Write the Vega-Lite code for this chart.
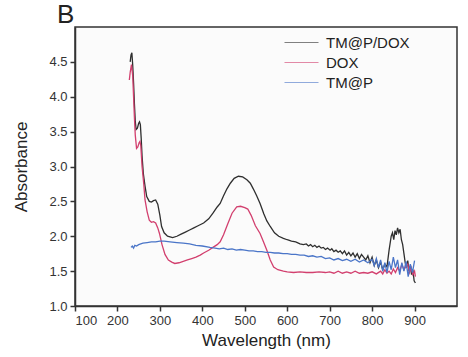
{
"$schema": "https://vega.github.io/schema/vega-lite/v6.json",
"autosize": "none",
"width": 382,
"height": 279,
"padding": {"left": 75, "top": 27, "right": 11, "bottom": 51},
"background": "#ffffff",
"title": {"text": "B", "anchor": "start", "frame": "group", "fontSize": 26, "fontWeight": "normal", "font": "Liberation Sans", "color": "#222222", "dx": -18, "offset": -22, "baseline": "alphabetic"},
"config": {
  "view": {"stroke": "#333333", "strokeWidth": 1.5, "fill": "#fbfbfb"},
  "axis": {"labelFont": "Liberation Sans", "titleFont": "Liberation Sans", "labelFontSize": 13, "titleFontSize": 17, "titleFontWeight": "normal", "labelColor": "#333333", "titleColor": "#222222", "domainColor": "#333333", "domainWidth": 1.5, "tickColor": "#333333", "tickWidth": 1.5, "tickSize": 5, "grid": false}
},
"data": {"values": [
{"s":"TM@P/DOX","w":230,"a":4.50},{"s":"TM@P/DOX","w":232,"a":4.60},{"s":"TM@P/DOX","w":234,"a":4.63},{"s":"TM@P/DOX","w":236,"a":4.45},{"s":"TM@P/DOX","w":238,"a":4.20},{"s":"TM@P/DOX","w":240,"a":3.90},{"s":"TM@P/DOX","w":242,"a":3.65},{"s":"TM@P/DOX","w":244,"a":3.53},{"s":"TM@P/DOX","w":247,"a":3.55},{"s":"TM@P/DOX","w":250,"a":3.62},{"s":"TM@P/DOX","w":252,"a":3.64},{"s":"TM@P/DOX","w":254,"a":3.60},{"s":"TM@P/DOX","w":256,"a":3.40},{"s":"TM@P/DOX","w":258,"a":3.15},{"s":"TM@P/DOX","w":261,"a":2.90},{"s":"TM@P/DOX","w":265,"a":2.72},{"s":"TM@P/DOX","w":269,"a":2.57},{"s":"TM@P/DOX","w":275,"a":2.50},{"s":"TM@P/DOX","w":280,"a":2.49},{"s":"TM@P/DOX","w":285,"a":2.51},{"s":"TM@P/DOX","w":290,"a":2.52},{"s":"TM@P/DOX","w":295,"a":2.46},{"s":"TM@P/DOX","w":300,"a":2.30},{"s":"TM@P/DOX","w":304,"a":2.14},{"s":"TM@P/DOX","w":310,"a":2.05},{"s":"TM@P/DOX","w":318,"a":2.00},{"s":"TM@P/DOX","w":324,"a":1.99},{"s":"TM@P/DOX","w":330,"a":1.98},{"s":"TM@P/DOX","w":340,"a":2.00},{"s":"TM@P/DOX","w":350,"a":2.03},{"s":"TM@P/DOX","w":360,"a":2.06},{"s":"TM@P/DOX","w":370,"a":2.09},{"s":"TM@P/DOX","w":380,"a":2.12},{"s":"TM@P/DOX","w":390,"a":2.15},{"s":"TM@P/DOX","w":403,"a":2.19},{"s":"TM@P/DOX","w":415,"a":2.25},{"s":"TM@P/DOX","w":425,"a":2.33},{"s":"TM@P/DOX","w":435,"a":2.42},{"s":"TM@P/DOX","w":442,"a":2.47},{"s":"TM@P/DOX","w":450,"a":2.58},{"s":"TM@P/DOX","w":458,"a":2.68},{"s":"TM@P/DOX","w":466,"a":2.76},{"s":"TM@P/DOX","w":475,"a":2.83},{"s":"TM@P/DOX","w":485,"a":2.86},{"s":"TM@P/DOX","w":495,"a":2.85},{"s":"TM@P/DOX","w":505,"a":2.81},{"s":"TM@P/DOX","w":513,"a":2.76},{"s":"TM@P/DOX","w":520,"a":2.68},{"s":"TM@P/DOX","w":528,"a":2.58},{"s":"TM@P/DOX","w":536,"a":2.47},{"s":"TM@P/DOX","w":545,"a":2.32},{"s":"TM@P/DOX","w":552,"a":2.22},{"s":"TM@P/DOX","w":560,"a":2.14},{"s":"TM@P/DOX","w":570,"a":2.05},{"s":"TM@P/DOX","w":580,"a":2.00},{"s":"TM@P/DOX","w":591,"a":1.97},{"s":"TM@P/DOX","w":600,"a":1.95},{"s":"TM@P/DOX","w":610,"a":1.93},{"s":"TM@P/DOX","w":620,"a":1.92},{"s":"TM@P/DOX","w":630,"a":1.89},{"s":"TM@P/DOX","w":638,"a":1.88},{"s":"TM@P/DOX","w":645,"a":1.89},{"s":"TM@P/DOX","w":650,"a":1.86},{"s":"TM@P/DOX","w":655,"a":1.88},{"s":"TM@P/DOX","w":660,"a":1.85},{"s":"TM@P/DOX","w":665,"a":1.87},{"s":"TM@P/DOX","w":670,"a":1.84},{"s":"TM@P/DOX","w":675,"a":1.86},{"s":"TM@P/DOX","w":680,"a":1.83},{"s":"TM@P/DOX","w":685,"a":1.84},{"s":"TM@P/DOX","w":690,"a":1.81},{"s":"TM@P/DOX","w":695,"a":1.83},{"s":"TM@P/DOX","w":701,"a":1.80},{"s":"TM@P/DOX","w":705,"a":1.82},{"s":"TM@P/DOX","w":710,"a":1.78},{"s":"TM@P/DOX","w":715,"a":1.80},{"s":"TM@P/DOX","w":720,"a":1.77},{"s":"TM@P/DOX","w":725,"a":1.79},{"s":"TM@P/DOX","w":730,"a":1.75},{"s":"TM@P/DOX","w":735,"a":1.79},{"s":"TM@P/DOX","w":740,"a":1.73},{"s":"TM@P/DOX","w":745,"a":1.77},{"s":"TM@P/DOX","w":750,"a":1.72},{"s":"TM@P/DOX","w":755,"a":1.76},{"s":"TM@P/DOX","w":760,"a":1.70},{"s":"TM@P/DOX","w":765,"a":1.75},{"s":"TM@P/DOX","w":770,"a":1.68},{"s":"TM@P/DOX","w":775,"a":1.74},{"s":"TM@P/DOX","w":780,"a":1.70},{"s":"TM@P/DOX","w":785,"a":1.66},{"s":"TM@P/DOX","w":790,"a":1.72},{"s":"TM@P/DOX","w":795,"a":1.62},{"s":"TM@P/DOX","w":800,"a":1.70},{"s":"TM@P/DOX","w":805,"a":1.58},{"s":"TM@P/DOX","w":810,"a":1.66},{"s":"TM@P/DOX","w":815,"a":1.55},{"s":"TM@P/DOX","w":820,"a":1.63},{"s":"TM@P/DOX","w":825,"a":1.52},{"s":"TM@P/DOX","w":830,"a":1.60},{"s":"TM@P/DOX","w":835,"a":1.56},{"s":"TM@P/DOX","w":840,"a":1.80},{"s":"TM@P/DOX","w":845,"a":2.00},{"s":"TM@P/DOX","w":848,"a":2.05},{"s":"TM@P/DOX","w":851,"a":1.95},{"s":"TM@P/DOX","w":854,"a":2.08},{"s":"TM@P/DOX","w":857,"a":2.02},{"s":"TM@P/DOX","w":860,"a":2.12},{"s":"TM@P/DOX","w":863,"a":2.05},{"s":"TM@P/DOX","w":866,"a":2.10},{"s":"TM@P/DOX","w":869,"a":1.95},{"s":"TM@P/DOX","w":872,"a":1.88},{"s":"TM@P/DOX","w":875,"a":1.75},{"s":"TM@P/DOX","w":878,"a":1.62},{"s":"TM@P/DOX","w":881,"a":1.55},{"s":"TM@P/DOX","w":884,"a":1.65},{"s":"TM@P/DOX","w":887,"a":1.50},{"s":"TM@P/DOX","w":890,"a":1.58},{"s":"TM@P/DOX","w":893,"a":1.45},{"s":"TM@P/DOX","w":896,"a":1.52},{"s":"TM@P/DOX","w":899,"a":1.36},{"s":"TM@P/DOX","w":902,"a":1.33},
{"s":"DOX","w":228,"a":4.24},{"s":"DOX","w":230,"a":4.35},{"s":"DOX","w":233,"a":4.46},{"s":"DOX","w":236,"a":4.30},{"s":"DOX","w":238,"a":4.00},{"s":"DOX","w":240,"a":3.70},{"s":"DOX","w":242,"a":3.45},{"s":"DOX","w":245,"a":3.26},{"s":"DOX","w":248,"a":3.28},{"s":"DOX","w":251,"a":3.34},{"s":"DOX","w":253,"a":3.36},{"s":"DOX","w":255,"a":3.30},{"s":"DOX","w":258,"a":3.00},{"s":"DOX","w":262,"a":2.75},{"s":"DOX","w":265,"a":2.52},{"s":"DOX","w":270,"a":2.35},{"s":"DOX","w":275,"a":2.23},{"s":"DOX","w":280,"a":2.20},{"s":"DOX","w":285,"a":2.21},{"s":"DOX","w":290,"a":2.19},{"s":"DOX","w":295,"a":2.12},{"s":"DOX","w":299,"a":2.04},{"s":"DOX","w":305,"a":1.88},{"s":"DOX","w":312,"a":1.74},{"s":"DOX","w":320,"a":1.66},{"s":"DOX","w":328,"a":1.63},{"s":"DOX","w":335,"a":1.61},{"s":"DOX","w":345,"a":1.62},{"s":"DOX","w":355,"a":1.64},{"s":"DOX","w":365,"a":1.66},{"s":"DOX","w":375,"a":1.68},{"s":"DOX","w":385,"a":1.70},{"s":"DOX","w":395,"a":1.73},{"s":"DOX","w":403,"a":1.76},{"s":"DOX","w":415,"a":1.80},{"s":"DOX","w":425,"a":1.84},{"s":"DOX","w":435,"a":1.88},{"s":"DOX","w":442,"a":1.92},{"s":"DOX","w":450,"a":2.02},{"s":"DOX","w":460,"a":2.18},{"s":"DOX","w":470,"a":2.33},{"s":"DOX","w":481,"a":2.42},{"s":"DOX","w":490,"a":2.43},{"s":"DOX","w":500,"a":2.41},{"s":"DOX","w":507,"a":2.39},{"s":"DOX","w":515,"a":2.30},{"s":"DOX","w":525,"a":2.15},{"s":"DOX","w":536,"a":2.04},{"s":"DOX","w":544,"a":1.92},{"s":"DOX","w":552,"a":1.80},{"s":"DOX","w":560,"a":1.66},{"s":"DOX","w":568,"a":1.56},{"s":"DOX","w":578,"a":1.52},{"s":"DOX","w":591,"a":1.50},{"s":"DOX","w":600,"a":1.49},{"s":"DOX","w":615,"a":1.48},{"s":"DOX","w":630,"a":1.49},{"s":"DOX","w":645,"a":1.48},{"s":"DOX","w":660,"a":1.48},{"s":"DOX","w":675,"a":1.49},{"s":"DOX","w":690,"a":1.48},{"s":"DOX","w":700,"a":1.49},{"s":"DOX","w":710,"a":1.47},{"s":"DOX","w":720,"a":1.50},{"s":"DOX","w":730,"a":1.47},{"s":"DOX","w":740,"a":1.49},{"s":"DOX","w":750,"a":1.47},{"s":"DOX","w":760,"a":1.50},{"s":"DOX","w":770,"a":1.47},{"s":"DOX","w":780,"a":1.48},{"s":"DOX","w":790,"a":1.47},{"s":"DOX","w":800,"a":1.49},{"s":"DOX","w":810,"a":1.46},{"s":"DOX","w":820,"a":1.50},{"s":"DOX","w":825,"a":1.46},{"s":"DOX","w":830,"a":1.52},{"s":"DOX","w":835,"a":1.47},{"s":"DOX","w":840,"a":1.50},{"s":"DOX","w":845,"a":1.46},{"s":"DOX","w":850,"a":1.53},{"s":"DOX","w":855,"a":1.48},{"s":"DOX","w":860,"a":1.55},{"s":"DOX","w":865,"a":1.50},{"s":"DOX","w":870,"a":1.60},{"s":"DOX","w":875,"a":1.52},{"s":"DOX","w":880,"a":1.57},{"s":"DOX","w":884,"a":1.60},{"s":"DOX","w":888,"a":1.48},{"s":"DOX","w":892,"a":1.55},{"s":"DOX","w":896,"a":1.45},{"s":"DOX","w":900,"a":1.50},{"s":"DOX","w":902,"a":1.42},
{"s":"TM@P","w":232,"a":1.84},{"s":"TM@P","w":235,"a":1.86},{"s":"TM@P","w":238,"a":1.83},{"s":"TM@P","w":241,"a":1.87},{"s":"TM@P","w":245,"a":1.86},{"s":"TM@P","w":250,"a":1.88},{"s":"TM@P","w":255,"a":1.89},{"s":"TM@P","w":260,"a":1.90},{"s":"TM@P","w":270,"a":1.91},{"s":"TM@P","w":280,"a":1.92},{"s":"TM@P","w":290,"a":1.92},{"s":"TM@P","w":300,"a":1.93},{"s":"TM@P","w":310,"a":1.93},{"s":"TM@P","w":324,"a":1.92},{"s":"TM@P","w":340,"a":1.91},{"s":"TM@P","w":355,"a":1.90},{"s":"TM@P","w":370,"a":1.89},{"s":"TM@P","w":385,"a":1.87},{"s":"TM@P","w":400,"a":1.86},{"s":"TM@P","w":418,"a":1.84},{"s":"TM@P","w":430,"a":1.83},{"s":"TM@P","w":440,"a":1.82},{"s":"TM@P","w":450,"a":1.83},{"s":"TM@P","w":460,"a":1.81},{"s":"TM@P","w":470,"a":1.82},{"s":"TM@P","w":480,"a":1.80},{"s":"TM@P","w":490,"a":1.81},{"s":"TM@P","w":500,"a":1.80},{"s":"TM@P","w":510,"a":1.79},{"s":"TM@P","w":520,"a":1.79},{"s":"TM@P","w":530,"a":1.78},{"s":"TM@P","w":540,"a":1.78},{"s":"TM@P","w":550,"a":1.77},{"s":"TM@P","w":560,"a":1.77},{"s":"TM@P","w":570,"a":1.76},{"s":"TM@P","w":580,"a":1.76},{"s":"TM@P","w":590,"a":1.75},{"s":"TM@P","w":600,"a":1.75},{"s":"TM@P","w":610,"a":1.74},{"s":"TM@P","w":620,"a":1.74},{"s":"TM@P","w":630,"a":1.73},{"s":"TM@P","w":640,"a":1.73},{"s":"TM@P","w":650,"a":1.71},{"s":"TM@P","w":660,"a":1.72},{"s":"TM@P","w":670,"a":1.70},{"s":"TM@P","w":680,"a":1.71},{"s":"TM@P","w":690,"a":1.68},{"s":"TM@P","w":700,"a":1.69},{"s":"TM@P","w":710,"a":1.66},{"s":"TM@P","w":720,"a":1.68},{"s":"TM@P","w":730,"a":1.65},{"s":"TM@P","w":740,"a":1.67},{"s":"TM@P","w":750,"a":1.64},{"s":"TM@P","w":760,"a":1.67},{"s":"TM@P","w":770,"a":1.63},{"s":"TM@P","w":780,"a":1.66},{"s":"TM@P","w":790,"a":1.62},{"s":"TM@P","w":800,"a":1.67},{"s":"TM@P","w":805,"a":1.58},{"s":"TM@P","w":810,"a":1.68},{"s":"TM@P","w":815,"a":1.55},{"s":"TM@P","w":820,"a":1.66},{"s":"TM@P","w":825,"a":1.50},{"s":"TM@P","w":830,"a":1.62},{"s":"TM@P","w":835,"a":1.48},{"s":"TM@P","w":840,"a":1.64},{"s":"TM@P","w":845,"a":1.52},{"s":"TM@P","w":850,"a":1.70},{"s":"TM@P","w":855,"a":1.55},{"s":"TM@P","w":860,"a":1.66},{"s":"TM@P","w":865,"a":1.45},{"s":"TM@P","w":870,"a":1.62},{"s":"TM@P","w":875,"a":1.50},{"s":"TM@P","w":880,"a":1.64},{"s":"TM@P","w":885,"a":1.42},{"s":"TM@P","w":890,"a":1.60},{"s":"TM@P","w":895,"a":1.48},{"s":"TM@P","w":900,"a":1.65}
]},
"mark": {"type": "line", "strokeWidth": 1.3, "clip": true},
"encoding": {
  "x": {"field": "w", "type": "quantitative", "title": "Wavelength (nm)", "scale": {"domain": [100, 1000], "nice": false}, "axis": {"values": [100,200,300,400,500,600,700,800,900], "titlePadding": 5, "labelPadding": 3}},
  "y": {"field": "a", "type": "quantitative", "title": "Absorbance", "scale": {"domain": [1.0, 5.0], "nice": false, "zero": false}, "axis": {"values": [1.0,1.5,2.0,2.5,3.0,3.5,4.0,4.5], "format": ".1f", "titlePadding": 18, "labelPadding": 3}},
  "color": {"field": "s", "type": "nominal", "scale": {"domain": ["TM@P/DOX", "DOX", "TM@P"], "range": ["#2f2f2f", "#d23f6e", "#4a75c8"]},
    "legend": {"title": null, "orient": "none", "legendX": 219, "legendY": 8, "symbolType": "M-3.4,0H3.4", "symbolSize": 100, "symbolStrokeWidth": 1.2, "symbolOpacity": 0.6, "labelFont": "Liberation Sans", "labelFontSize": 15, "labelColor": "#222222", "rowPadding": 4, "labelOffset": 17}},
  "order": {"field": "w", "type": "quantitative"}
}
}
